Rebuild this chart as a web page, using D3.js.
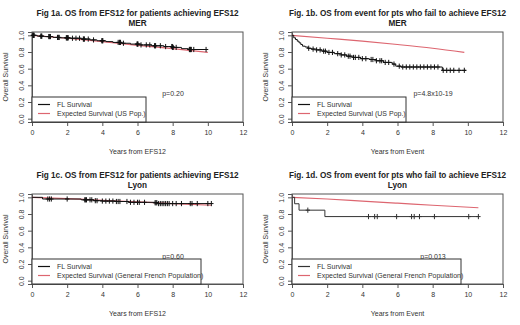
<!DOCTYPE html>
<html>
<head>
<meta charset="utf-8">
<script src="https://cdn.jsdelivr.net/npm/d3@7"></script>
<style>
  body { margin: 0; background: #fff; }
  text { font-family: "Liberation Sans", Arial, sans-serif; fill: #222; }
</style>
</head>
<body>
<script>
// Four KM panels, OS vs expected survival

const panelTitles = [
  ["Fig 1a. OS from EFS12 for patients achieving EFS12", "MER"],
  ["Fig. 1b. OS from event for pts who fail to achieve EFS12", "MER"],
  ["Fig 1c. OS from EFS12 for patients achieving EFS12", "Lyon"],
  ["Fig. 1d. OS from event for pts who fail to achieve EFS12", "Lyon"]
];
const xLabels = ["Years from EFS12", "Years from Event", "Years from EFS12", "Years from Event"];
const legendLabels = [
  ["FL Survival", "Expected Survival (US Pop.)"],
  ["FL Survival", "Expected Survival (US Pop.)"],
  ["FL Survival", "Expected Survival (General French Population)"],
  ["FL Survival", "Expected Survival (General French Population)"]
];
const pValues = ["p=0.20", "p=4.8x10-19", "p=0.60", "p=0.013"];
const xTicks = [0, 2, 4, 6, 8, 10, 12];
const yTicks = [0.0, 0.2, 0.4, 0.6, 0.8, 1.0];

// FL survival steps [time, surv], last point = end of follow-up
const fl1a = [[0,1],[0.3,0.99],[0.7,0.985],[1.2,0.975],[1.6,0.97],[2.2,0.965],[2.8,0.955],[3.3,0.945],[3.7,0.935],
  [4.2,0.925],[4.6,0.915],[5.1,0.905],[5.6,0.895],[6.2,0.885],[6.8,0.875],[7.5,0.865],[8.0,0.855],[8.5,0.84],[8.9,0.83],[10.0,0.83]];
const fl1b = [[0,1],[0.1,0.97],[0.2,0.95],[0.3,0.93],[0.4,0.91],[0.5,0.89],[0.6,0.87],[0.75,0.86],[0.9,0.845],[1.1,0.835],
  [1.4,0.825],[1.7,0.81],[2.0,0.795],[2.4,0.78],[2.8,0.765],[3.1,0.75],[3.5,0.735],[3.9,0.72],[4.4,0.71],[4.8,0.695],
  [5.2,0.675],[5.7,0.655],[5.9,0.63],[6.2,0.62],[8.55,0.58],[9.9,0.58]];
const fl1c = [[0,1],[0.6,0.98],[2.8,0.97],[3.5,0.96],[4.0,0.955],[4.8,0.95],[5.5,0.94],[7.0,0.935],[7.2,0.925],[10.2,0.925]];
const fl1d = [[0,1],[0.15,0.923],[0.4,0.846],[1.87,0.769],[10.6,0.769]];

// censoring times
const cens1a = [0.05,0.08,0.1,0.12,0.5,0.53,0.56,0.95,1.0,1.05,1.45,1.5,1.55,1.95,1.98,2.0,2.03,2.06,2.3,2.5,2.7,
  2.92,2.95,2.98,3.2,3.5,3.97,4.0,4.03,4.9,4.97,5.0,5.03,5.2,5.97,6.0,6.03,6.2,6.5,6.7,6.97,7.0,7.03,7.3,7.6,
  7.95,7.98,8.0,8.03,8.2,8.95,8.98,9.0,9.03,9.06,9.2,9.9];
const cens1b = [0.95,1.2,1.4,1.6,1.8,1.9,2.1,2.3,2.6,2.8,3.0,3.2,3.3,3.5,3.6,3.8,4.0,4.2,4.5,4.6,4.8,5.0,5.1,5.3,
  5.5,5.8,6.1,6.3,6.5,6.7,6.9,7.1,7.3,7.5,7.7,7.9,8.1,8.3,8.6,8.8,9.0,9.2,9.5,9.8];
const cens1c = [0.9,1.0,1.1,2.0,3.0,3.05,3.1,3.3,3.4,3.6,3.7,4.0,4.2,4.4,4.6,4.8,4.9,5.0,5.4,5.6,5.8,6.0,6.1,6.4,
  7.0,7.05,7.1,7.2,7.3,7.4,7.5,7.6,7.7,7.8,8.0,8.2,8.5,9.0,9.1,9.4,10.0,10.2];
const cens1d = [0.9,4.35,4.7,4.85,5.95,6.8,6.95,7.25,8.1,10.05,10.6];

// expected survival
const exp1a = [[0,1],[2,0.965],[4,0.925],[6,0.88],[8,0.84],[10,0.795]];
const exp1b = [[0,1],[2,0.965],[4,0.93],[6,0.89],[8,0.845],[9.8,0.795]];
const exp1c = [[0,1],[2,0.985],[4,0.965],[6,0.945],[8,0.925],[10.2,0.905]];
const exp1d = [[0,1],[2,0.98],[4,0.955],[6,0.93],[8,0.905],[10.6,0.875]];

const panelData = [
  {fl: fl1a, cens: cens1a, exp: exp1a, flColor: "#111"},
  {fl: fl1b, cens: cens1b, exp: exp1b, flColor: "#111"},
  {fl: fl1c, cens: cens1c, exp: exp1c, flColor: "#111"},
  {fl: fl1d, cens: cens1d, exp: exp1d, flColor: "#333"}
];

const W = 520, H = 325;
const panelW = 260, panelH = 162;
const plot = {left: 32, right: 243, top: 32, bottom: 122};
const redColor = "#dd6670";
const boxColor = "#555";

const svg = d3.select("body").append("svg")
  .attr("width", W)
  .attr("height", H);

function survAt(steps, t) {
  let s = steps[0][1];
  for (const p of steps) { if (p[0] <= t) s = p[1]; }
  return s;
}

panelData.forEach(function(d, i) {
  const ox = (i % 2) * panelW;
  const oy = Math.floor(i / 2) * panelH;
  const g = svg.append("g").attr("transform", "translate(" + ox + "," + oy + ")");

  const x = d3.scaleLinear().domain([0, 12]).range([plot.left, plot.right]);
  const y = d3.scaleLinear().domain([-0.04, 1.04]).range([plot.bottom, plot.top]);

  // title
  g.append("text").attr("x", (plot.left + plot.right) / 2).attr("y", 16)
    .attr("text-anchor", "middle").style("font-size", "8.2px").style("font-weight", "bold")
    .text(panelTitles[i][0]);
  g.append("text").attr("x", (plot.left + plot.right) / 2).attr("y", 25.5)
    .attr("text-anchor", "middle").style("font-size", "8.2px").style("font-weight", "bold")
    .text(panelTitles[i][1]);

  // x axis
  const xa = g.append("g")
    .attr("transform", "translate(0," + plot.bottom + ")")
    .call(d3.axisBottom(x).tickValues(xTicks).tickSize(4).tickPadding(4.5).tickFormat(d3.format("d")));
  xa.select(".domain").attr("stroke", boxColor);
  xa.selectAll("line").attr("stroke", boxColor);
  xa.selectAll("text").style("font-size", "7px").style("fill", "#333").style("font-family", "Liberation Sans, Arial, sans-serif");

  // y axis (labels rotated like R's default las=0)
  const ya = g.append("g")
    .attr("transform", "translate(" + plot.left + ",0)")
    .call(d3.axisLeft(y).tickValues(yTicks).tickSize(4).tickFormat(d3.format(".1f")));
  ya.select(".domain").attr("stroke", boxColor);
  ya.selectAll("line").attr("stroke", boxColor);
  ya.selectAll("text")
    .style("font-size", "7px").style("fill", "#333").style("font-family", "Liberation Sans, Arial, sans-serif")
    .attr("text-anchor", "middle").attr("x", 0).attr("y", 0).attr("dy", 0)
    .attr("transform", "translate(-8.5,0) rotate(-90)");

  // box
  g.append("rect")
    .attr("x", plot.left).attr("y", plot.top)
    .attr("width", plot.right - plot.left).attr("height", plot.bottom - plot.top)
    .attr("fill", "none").attr("stroke", boxColor).attr("stroke-width", 1);

  // axis labels
  g.append("text").attr("x", (plot.left + plot.right) / 2).attr("y", 154)
    .attr("text-anchor", "middle").style("font-size", "7px").style("fill", "#333").text(xLabels[i]);
  g.append("text")
    .attr("transform", "translate(8," + ((plot.top + plot.bottom) / 2) + ") rotate(-90)")
    .attr("text-anchor", "middle").style("font-size", "7px").style("fill", "#333").text("Overall Survival");

  // expected curve
  const line = d3.line().x(function(p) { return x(p[0]); }).y(function(p) { return y(p[1]); });
  g.append("path").datum(d.exp).attr("d", line.curve(d3.curveMonotoneX))
    .attr("fill", "none").attr("stroke", redColor).attr("stroke-width", 1.2);

  // FL KM curve
  const step = d3.line().x(function(p) { return x(p[0]); }).y(function(p) { return y(p[1]); }).curve(d3.curveStepAfter);
  g.append("path").datum(d.fl).attr("d", step)
    .attr("fill", "none").attr("stroke", d.flColor).attr("stroke-width", 1);

  // censor marks
  const cg = g.append("g").attr("stroke", d.flColor).attr("stroke-width", 1);
  d.cens.forEach(function(t) {
    const cx = x(t), cy = y(survAt(d.fl, t));
    cg.append("line").attr("x1", cx).attr("x2", cx).attr("y1", cy - 2.6).attr("y2", cy + 2.6);
    cg.append("line").attr("x1", cx - 2.2).attr("x2", cx + 2.2).attr("y1", cy).attr("y2", cy);
  });

  // p value
  g.append("text").attr("x", 173).attr("y", i < 2 ? 96 : 97)
    .attr("text-anchor", "middle").style("font-size", "7px").style("fill", "#333").text(pValues[i]);

  // legend
  const legW = i < 2 ? 114 : 169;
  const lg = g.append("g");
  lg.append("rect").attr("x", plot.left).attr("y", 97).attr("width", legW).attr("height", plot.bottom - 97)
    .attr("fill", "#fff").attr("stroke", "#333").attr("stroke-width", 1);
  const legColors = [d.flColor, redColor];
  legendLabels[i].forEach(function(lab, k) {
    const ly = 104.5 + k * 9;
    lg.append("line").attr("x1", 38).attr("x2", 50).attr("y1", ly).attr("y2", ly)
      .attr("stroke", legColors[k]).attr("stroke-width", 1.2);
    lg.append("text").attr("x", 57).attr("y", ly + 2.5).style("font-size", "7px").style("fill", "#333").text(lab);
  });
});
</script>
</body>
</html>
